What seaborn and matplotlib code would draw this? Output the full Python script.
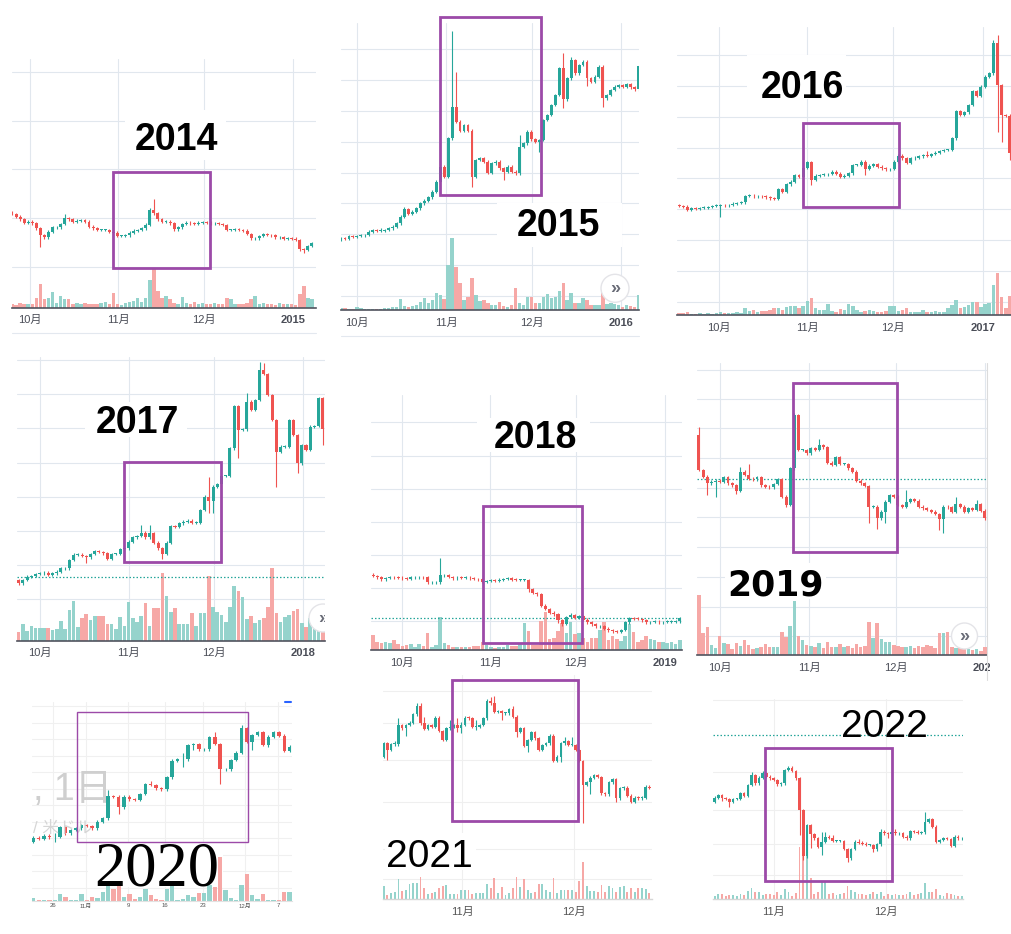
import numpy as np
import pandas as pd
import matplotlib
matplotlib.use("Agg")
import matplotlib.pyplot as plt
from matplotlib.patches import Rectangle, Circle
from matplotlib.lines import Line2D
from matplotlib.transforms import IdentityTransform
import seaborn as sns

sns.set_theme(style="white")
plt.rcParams['font.family'] = ['Liberation Sans', 'Noto Sans CJK JP', 'DejaVu Sans']
plt.rcParams['axes.unicode_minus'] = False

W, H = 1012, 934
UP, DN = '#26a69a', '#ef5350'
VUP, VDN = '#95d3cc', '#f6a8a6'
PURPLE = '#9c4aa8'

# ---------------- data (price levels / volumes) ----------------
c14 = [281,273,265,255,258,253,238,218,211,228, 241,241,251,268,265,258,261,263,258,243,
       238,233,233,233,228,225,215,215,217,225, 231,233,238,249,293,283,265,258,258,253,
       235,241,251,255,253,251,255,257,255,253, 253,251,248,233,233,235,233,231,221,208,
       208,215,221,218,217,211,211,207,208,207, 203,175,173,185,193]
o14 = 285
v14 = [12,8,15,12,10,10,30,70,25,30, 48,15,35,25,25,12,15,10,15,12,
       12,10,15,18,10,45,12,8,15,18, 20,30,18,30,83,115,50,30,35,25,
       15,12,32,15,10,18,12,15,10,12, 15,10,12,30,25,12,10,10,15,25,
       35,12,15,10,12,8,15,10,12,10, 8,40,65,30,25]
hi14 = {13: 281, 34: 298, 35: 326}
lo14 = {7: 183, 72: 165}
lab14 = ['10月', '11月', '12月', '2015']

c15 = [215,214,222,220,222,224,225,235,240,238, 238,240,245,250,260,280,302,288,295,305,
       320,328,338,355,385,430,400,515,610,565, 538,555,538,400,450,455,445,412,440,445,
       425,415,430,415,410,490,500,535,512,505, 510,570,585,615,645,725,632,695,750,710,
       735,745,695,685,700,730,635,645,660,670, 675,670,678,668,662,732]
o15 = 212
v15 = [5,5,3,4,8,6,4,3,3,4, 4,5,6,10,10,32,12,10,12,15,
       25,35,20,30,50,45,32,135,215,128, 80,30,40,95,45,28,30,20,15,15,
       25,12,8,15,65,22,15,40,40,20, 20,38,48,35,40,58,82,30,52,20,
       20,35,30,15,15,15,70,18,20,18, 15,10,15,12,10,45]
hi15 = {10: 245, 16: 310, 25: 450, 28: 838, 29: 715, 45: 525, 56: 772, 58: 760}
lo15 = {33: 370, 41: 390, 50: 475, 56: 605, 62: 672, 66: 610}
lab15 = ['10月', '11月', '12月', '2016']

c16 = [327,325,315,320,318,321,322,324,327,328, 330,329,330,334,336,338,357,358,356,357,
       356,353,350,348,378,370,392,400,420,415, 442,458,405,418,420,422,423,430,424,415,
       418,425,450,450,460,438,448,452,445,440, 437,438,460,478,470,457,470,472,476,480,
       478,483,487,492,495,495,530,612,600,608, 630,672,658,685,715,725,815,690,600,598,
       485]
o16 = 330
v16 = [6,5,8,4,3,5,4,5,4,6, 8,6,7,6,8,5,20,12,14,8,
       12,13,15,20,20,16,25,28,28,20, 28,42,50,20,15,15,32,12,10,17,
       15,32,27,14,10,12,15,12,8,10, 12,27,27,12,15,20,10,8,8,15,
       10,10,13,8,10,20,30,45,22,24, 30,38,38,25,32,35,90,125,55,20,
       58]
hi16 = {60: 492, 76: 825, 77: 840}
lo16 = {10: 295, 32: 390, 45: 420, 77: 550, 78: 520, 80: 465}
lab16 = ['10月', '11月', '12月', '2017']

c17 = [172,182,192,194,200,202,204,197,202,207, 217,217,242,258,258,254,250,260,268,266,
       262,246,260,260,274,277,297,310,314,324, 310,322,294,277,260,294,344,342,352,357,
       360,354,354,392,432,420,462,470,494,494, 577,704,632,634,717,692,722,812,800,737,
       662,567,582,582,662,617,532,587,572,642, 644,727,634]
o17 = 182
v17 = [27,50,30,44,37,37,37,37,32,35, 60,35,92,120,40,67,79,62,74,74,
       74,50,50,36,72,45,117,68,55,75, 112,45,97,97,204,134,87,97,50,50,
       50,82,45,82,82,194,102,87,77,55, 100,164,150,132,64,74,52,62,68,102,
       217,82,57,72,77,90,94,52,42,67, 57,52,32]
hi17 = {29: 347, 31: 347, 45: 490, 54: 744, 57: 837, 58: 832}
lo17 = {16: 232, 34: 244, 45: 384, 46: 382, 52: 547, 61: 462, 66: 502, 72: 587}
lab17 = ['10月', '11月', '12月', '2018']

c18 = [222,218,212,216,219,218,217,215,214,218, 218,219,218,203,203,203,224,225,219,215,
       217,216,217,215,213,212,205,207,209,208, 211,213,215,211,210,210,210,183,171,167,
       133,123,112,107,89,79,99,105,97,101, 91,83,77,71,71,64,59,56,55,60,
       83,95,94,93,89,83,84,85,83,84, 85,85,86,95]
o18 = 226
v18 = [45,23,22,25,20,30,18,12,15,17, 10,17,13,50,10,15,98,20,15,10,
       8,10,10,10,12,12,23,15,10,7, 10,10,15,13,13,20,81,57,15,15,
       87,115,33,35,57,80,50,83,47,50, 35,25,37,37,60,83,30,43,33,27,
       43,77,53,25,30,43,33,30,25,23, 20,25,17,30]
hi18 = {16: 275, 47: 110}
lo18 = {37: 173, 44: 80, 45: 73}
lab18 = ['10月', '11月', '12月', '2019']

c19 = [555,535,515,520,523,520,533,515,509,493, 550,540,529,527,533,509,505,503,513,527,
       475,450,560,720,615,615,605,620,615,630, 623,577,570,593,573,573,560,550,523,515,
       507,445,445,410,430,460,480,475,450,445, 460,467,463,445,440,435,430,423,407,445,
       443,429,453,445,429,440,435,453,433,410]
o19 = 660
v19 = [180,67,85,30,22,57,35,33,18,35, 28,45,30,18,22,23,33,25,25,23,
       70,55,87,163,57,45,30,27,25,37, 20,40,25,23,33,25,27,20,33,25,
       27,100,50,95,47,40,40,30,27,23, 25,28,20,27,25,30,27,20,67,65,
       70,23,20,27,23,17,15,17,13,25]
hi19 = {0: 685, 10: 565, 12: 573, 23: 725, 29: 647, 50: 495, 62: 475, 67: 465}
lo19 = {2: 480, 4: 475, 9: 483, 21: 445, 41: 397, 43: 377, 45: 395, 58: 375, 59: 365}
lab19 = ['10月', '11月', '12月', '2020']

c20 = [189,185,195,190,192,220,202,212,217,227, 224,217,237,247,314,312,280,312,304,302,
       320,350,347,337,334,370,420,424,424,467, 469,454,454,490,470,394,394,422,444,517,
       477,497,505,467,492,505,495,449,462]
o20 = 177
v20 = [8,2,2,2,2,20,12,2,2,20, 2,12,8,27,50,35,45,12,20,4,
       12,35,17,5,3,35,52,3,5,18, 12,22,22,48,40,132,33,8,3,48,
       80,18,5,20,2,2,2,25,25]
hi20 = {4: 202, 14: 332, 22: 360, 28: 442, 33: 495, 34: 507, 39: 527}
lo20 = {4: 177, 16: 260, 28: 402, 30: 452, 35: 350, 41: 452, 44: 460}
lab20 = ['26', '11月', '9', '16', '23', '12月', '7']
wm20 = [', 1日', '/ 米ドル']

c21 = [468,448,465,465,523,513,523,530,555,581, 528,511,523,518,545,505,478,513,518,523,
       513,523,545,543,518,518,523,543,595,588, 563,565,558,558,571,548,503,513,461,478,
       501,483,448,463,468,491,415,428,468,475, 463,463,448,415,343,351,365,373,367,318,
       315,351,361,303,333,335,311,293,305,303, 305,338,335]
o21 = 428
v21 = [41,13,18,23,61,25,28,45,48,48, 68,33,16,18,21,33,41,43,16,16,
       16,28,28,28,16,18,18,18,46,35, 63,18,38,13,18,33,67,38,61,28,
       18,21,45,45,28,21,63,18,28,28, 28,28,23,55,111,41,25,25,21,43,
       23,41,33,23,38,41,23,33,23,33, 33,31,18]
hi21 = {3: 475, 4: 543, 9: 588, 10: 588, 11: 548, 18: 538, 20: 543, 21: 533, 25: 538,
        28: 601, 29: 608, 30: 611, 35: 581, 49: 488, 51: 488}
lo21 = {1: 418, 6: 491, 20: 503, 21: 498, 25: 508, 32: 538, 36: 488, 39: 443, 48: 413,
        54: 228, 56: 315, 63: 291}
lab21 = ['11月', '12月']

c22 = [304,312,302,300,292,300,300,317,310,342, 372,347,364,377,367,362,357,344,347,387,
       394,384,362,267,130,222,194,182,157,172, 187,184,174,174,174,150,122,150,172,169,
       166,162,162,149,164,202,197,194,200,197, 197,187,182,204,202,199,200,232,240,217,
       172,177,182,180,160,187,182,182]
o22 = 292
v22 = [10,15,14,10,12,12,9,15,12,24, 34,20,20,12,14,14,12,22,12,30,
       22,10,17,157,150,157,62,15,20,50, 50,15,18,12,15,18,40,28,22,15,
       15,12,15,20,15,22,10,15,12,15, 12,12,15,22,12,15,18,48,22,22,
       30,12,10,18,15,12,10,8]
hi22 = {8: 322, 10: 380, 13: 384, 20: 400, 29: 200, 30: 200, 32: 192, 39: 180, 45: 210,
        49: 210, 57: 260}
lo22 = {2: 294, 4: 277, 23: 192, 24: 117, 25: 122, 26: 154, 29: 132, 36: 112, 43: 140, 47: 182}
lab22 = ['11月', '12月']

years = ['2014', '2015', '2016', '2017', '2018', '2019', '2020', '2021', '2022']

# ---------------- drawing ----------------
fig = plt.figure(figsize=(W / 100, H / 100), dpi=100)
fig.patch.set_facecolor('white')


def fx(x):
    return x / W


def fy(y):
    return 1 - y / H


def panel(frame, xlim, ytop, closes, open0, vols, highs, lows, ticks, labels, grid_y,
          grid_color='#e1e7ee', spine_color='#50535e', spine_lw=1.2, tick_size=8,
          tick_color='#4a4d57', pad=5.5, bold_last=True, body_w=0.72, vol_w=0.85,
          wick_lw=0.8, dotted=None, boxes=()):
    l, t, r, b = frame
    ax = fig.add_axes([fx(l), fy(b), (r - l) / W, (b - t) / H])
    ax.set_facecolor('white')
    closes = np.asarray(closes, float)
    opens = np.concatenate([[open0], closes[:-1]])
    n = len(closes)
    idx = np.arange(n)
    up = closes >= opens

    # volume bars (seaborn)
    df = pd.DataFrame({'idx': idx, 'vol': np.asarray(vols, float),
                       'dir': np.where(up, 'up', 'down')})
    sns.barplot(data=df, x='idx', y='vol', hue='dir', hue_order=['up', 'down'],
                palette={'up': VUP, 'down': VDN}, native_scale=True, dodge=False,
                width=vol_w, saturation=1, errorbar=None, legend=False, ax=ax,
                zorder=1, linewidth=0)

    # grid
    for gy in grid_y:
        ax.axhline(gy, color=grid_color, lw=0.8, zorder=0.2)
    for tx in ticks:
        ax.axvline(tx, color=grid_color, lw=0.8, zorder=0.2)
    for (bl, bt, br, bb) in boxes:
        ax.add_patch(Rectangle((fx(bl), fy(bb)), (br - bl) / W, (bb - bt) / H,
                               transform=fig.transFigure, facecolor='white',
                               edgecolor='none', zorder=0.5))
    if dotted is not None:
        ax.axhline(dotted, color=UP, lw=0.9, ls=(0, (1.2, 1.6)), zorder=1.5)

    # candles
    lo_b = np.minimum(opens, closes)
    hgt = np.maximum(np.abs(closes - opens), 2.5)
    cols = np.where(up, UP, DN)
    hi_w = np.maximum(opens, closes) + 4
    lo_w = lo_b - 4
    for k, v in highs.items():
        hi_w[k] = v
    for k, v in lows.items():
        lo_w[k] = v
    ax.vlines(idx, lo_w, hi_w, colors=cols, lw=wick_lw, zorder=2.8)
    ax.bar(idx, hgt, bottom=lo_b, width=body_w, color=cols, linewidth=0, zorder=3)

    ax.set_xlim(*xlim)
    ax.set_ylim(0, ytop)
    ax.set_xlabel('')
    ax.set_ylabel('')
    ax.set_yticks([])
    ax.set_xticks(ticks)
    ax.set_xticklabels(labels)
    ax.tick_params(axis='x', length=0, pad=pad, labelsize=tick_size, labelcolor=tick_color,
                   bottom=False)
    if bold_last:
        ax.get_xticklabels()[-1].set_fontweight('bold')
    for s in ['left', 'right', 'top']:
        ax.spines[s].set_visible(False)
    ax.spines['bottom'].set_color(spine_color)
    ax.spines['bottom'].set_linewidth(spine_lw)
    ax.spines['bottom'].set_zorder(4)
    return ax


ax1 = panel((12, 59, 316, 307.7), (0.0, 75.0), 746, c14, o14, v14, hi14, lo14,
            [4.4, 26.2, 47.4, 69.4], lab14, [121, 268, 415, 561, 708],
            boxes=[(125, 110, 226, 160)])
ax2 = panel((341, 22.7, 639, 310), (0.0, 75.1), 862, c15, o15, v15, hi15, lo15,
            [4.1, 26.5, 48.2, 70.6], lab15, [42, 135, 228, 320, 410, 503, 597, 690, 782],
            boxes=[(497, 203, 622, 247)])
ax3 = panel((677, 26.7, 1012, 315), (-0.5, 80.5), 865, c16, o16, v16, hi16, lo16,
            [9.6, 31.0, 51.8, 73.4], lab16, [40, 133, 225, 317, 410, 502, 593, 687, 780],
            boxes=[(747, 55, 846, 99)])
ax4 = panel((16.7, 356.7, 325, 640.7), (-0.47, 72.5), 852, c17, o17, v17, hi17, lo17,
            [5.05, 26.1, 46.3, 67.4], lab17, [124, 227, 329, 432, 534, 637, 740, 842],
            dotted=190, boxes=[(85, 402, 187, 437)])
ax5 = panel((371, 395, 682, 650), (-0.48, 73.5), 765, c18, o18, v18, hi18, lo18,
            [6.8, 27.9, 48.3, 69.5], lab18, [88, 187, 285, 385, 483, 583, 683],
            dotted=95, boxes=[(477, 418, 590, 452)])
ax6 = panel((697, 363, 987, 655), (-0.48, 69.5), 876, c19, o19, v19, hi19, lo19,
            [5.0, 26.6, 47.6, 69.1], lab19, [57, 145, 235, 323, 413, 502, 590, 680, 767, 855],
            dotted=528, boxes=[(725, 563, 826, 599)])
ax7 = panel((31.7, 701.7, 291.7, 900.7), (-0.31, 48.4), 597, c20, o20, v20, hi20, lo20,
            [3.7, 9.8, 17.75, 24.7, 31.75, 39.7, 45.9], lab20,
            [38.5, 88, 137.5, 187, 236.5, 286, 335.5, 385, 434.5, 484, 533.5, 583],
            grid_color='#f0f0f0', spine_color='#e2e2e2', spine_lw=0.8, tick_size=4.3,
            tick_color='#555555', pad=2.0, bold_last=False, body_w=0.64, vol_w=0.8,
            boxes=[(88, 842, 223, 887)])
ax8 = panel((383, 675, 652, 899.3), (-0.18, 72.7), 673, c21, o21, v21, hi21, lo21,
            [21.3, 51.6], lab21, [61, 151, 291, 418, 528, 625],
            grid_color='#efefef', spine_color='#d6d6d6', spine_lw=1.0, tick_size=8,
            tick_color='#555555', pad=5.5, bold_last=False, vol_w=0.5, body_w=0.7,
            boxes=[(385, 833, 476, 870)])
ax9 = panel((713, 699, 963, 899), (-0.45, 67.3), 600, c22, o22, v22, hi22, lo22,
            [16.0, 46.3], lab22, [72, 164, 267, 380, 598],
            grid_color='#efefef', spine_color='#d6d6d6', spine_lw=1.0, tick_size=8,
            tick_color='#555555', pad=5.5, bold_last=False, vol_w=0.5, body_w=0.7, dotted=492)

# watermark texts in the 2020 panel (only the visible part of the symbol overlay)
fig.text(fx(33), fy(800), wm20[0], ha='left', va='baseline', fontsize=27,
         color='#cfcfcf', zorder=0.3)
fig.text(fx(33), fy(833), wm20[1], ha='left', va='baseline', fontsize=12,
         color='#d6d6d6', zorder=0.3)

# purple highlight rectangles
rects = [(112.7, 171.7, 210, 268.3), (440.3, 17.3, 541, 195.3), (803.3, 123.3, 898.7, 207.3),
         (124, 462.3, 221, 562.3), (483, 506, 582, 643.3), (792.7, 383.3, 897.3, 551.7),
         (76.7, 711.7, 247.7, 842.3), (452.3, 680, 577.7, 821), (765, 747.7, 892.3, 881)]
for k, (l, t, r, b) in enumerate(rects):
    fig.add_artist(Rectangle((fx(l), fy(b)), (r - l) / W, (b - t) / H,
                             transform=fig.transFigure, fill=False, edgecolor=PURPLE,
                             lw=1.0 if k == 6 else 2.0, zorder=4))

# year labels
ypos = [(176.5, 150), (558.5, 236), (802, 98.3), (137.7, 432.7), (535.3, 447.7),
        (775.5, 595), (156.7, 885), (429.5, 867), (884, 737)]
for k, (s, (x, y)) in enumerate(zip(years, ypos)):
    if k == 5:
        kw = dict(fontsize=25, fontweight='bold', family='DejaVu Sans')
    elif k == 6:
        kw = dict(fontsize=45, family='Liberation Serif')
    elif k >= 7:
        kw = dict(fontsize=28, family='Liberation Sans')
    else:
        kw = dict(fontsize=27, fontweight='bold', family='Liberation Sans')
    fig.text(fx(x), fy(y), s, ha='center', va='baseline', color='black', zorder=5, **kw)

# scroll buttons
for (x, y, r, axc) in [(615, 288.3, 14, None), (323, 618, 14, ax4), (964.5, 636, 13, None)]:
    circ = Circle((x, H - y), r, transform=IdentityTransform(), facecolor='white',
                  edgecolor='#e4e4e8', lw=1.0, zorder=5)
    if axc is None:
        fig.add_artist(circ)
        fig.text(fx(x), fy(y), '»', ha='center', va='center', fontsize=13, fontweight='bold',
                 color='#6a6d78', zorder=6)
    else:
        axc.add_artist(circ)
        axc.text(x, H - y, '»', transform=IdentityTransform(), ha='center', va='center',
                 fontsize=13, fontweight='bold', color='#6a6d78', zorder=6, clip_on=True)

# thin separators and misc marks
fig.add_artist(Line2D([fx(12), fx(316)], [fy(333), fy(333)], color='#e3e8ef', lw=0.8))
fig.add_artist(Line2D([fx(341), fx(639)], [fy(336), fy(336)], color='#e3e8ef', lw=0.8))
fig.add_artist(Line2D([fx(987), fx(987)], [fy(363), fy(680)], color='#dcdcdc', lw=0.8))
fig.add_artist(Line2D([fx(285), fx(291)], [fy(702), fy(702)], color='#2962ff', lw=1.5))
fig.add_artist(Rectangle((fx(990), fy(682)), 22 / W, 24 / H, transform=fig.transFigure,
                         facecolor='white', edgecolor='none', zorder=6))

fig.savefig('out.png', dpi=100, facecolor='white')
